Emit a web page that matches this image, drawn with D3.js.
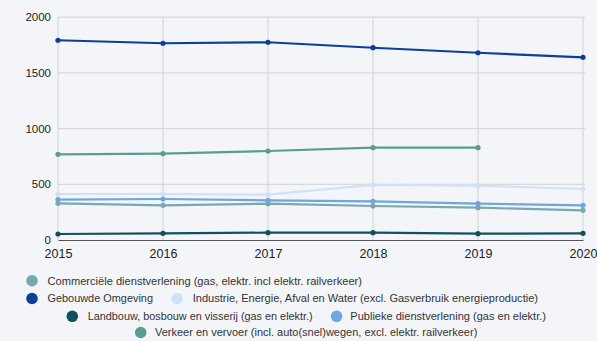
<!DOCTYPE html>
<html>
<head>
<meta charset="utf-8">
<script src="https://cdn.jsdelivr.net/npm/d3@7/dist/d3.min.js"></script>
<style>
  html, body { margin: 0; padding: 0; background: #f4f5f9; }
  svg { display: block; font-family: "Liberation Sans", Arial, sans-serif; }
</style>
</head>
<body>
<svg id="chart" width="597" height="341"></svg>
<script>
// Energy use per sector, 2015–2020
const years = [2015, 2016, 2017, 2018, 2019, 2020];
const yTicks = [0, 500, 1000, 1500, 2000];

const seriesNames = [
  "Commerciële dienstverlening (gas, elektr. incl elektr. railverkeer)",
  "Gebouwde Omgeving",
  "Industrie, Energie, Afval en Water (excl. Gasverbruik energieproductie)",
  "Landbouw, bosbouw en visserij (gas en elektr.)",
  "Publieke dienstverlening (gas en elektr.)",
  "Verkeer en vervoer (incl. auto(snel)wegen, excl. elektr. railverkeer)"
];
const seriesColors = ["#7aa8b0", "#0b3f98", "#d0e2f5", "#14505c", "#6ea6dd", "#5a9c94"];

const commercieel = [329, 311, 326, 305, 290, 266];
const gebouwd     = [1793, 1766, 1775, 1726, 1681, 1640];
const industrie   = [413, 413, 407, 494, 488, 458];
const landbouw    = [54, 60, 66, 66, 57, 60];
const publiek     = [362, 368, 356, 347, 326, 311];
const verkeer     = [769, 775, 799, 829, 829, null];

const seriesValues = [commercieel, gebouwd, industrie, landbouw, publiek, verkeer];

const svg = d3.select("#chart");
const plotLeft = 58, plotRight = 583, plotTop = 17.2, plotBottom = 240;
const fontStack = "'Liberation Sans', Arial, sans-serif";

const x = d3.scaleLinear().domain([2015, 2020]).range([plotLeft, plotRight]);
const y = d3.scaleLinear().domain([0, 2000]).range([plotBottom, plotTop]);

// horizontal gridlines
svg.append("g").selectAll("line").data(yTicks.filter(d => d > 0)).join("line")
  .attr("x1", plotLeft).attr("x2", plotRight + 2)
  .attr("y1", d => y(d)).attr("y2", d => y(d))
  .attr("stroke", "#d9d9dc").attr("stroke-width", 1.2);

// vertical gridlines
svg.append("g").selectAll("line").data(years).join("line")
  .attr("x1", d => x(d)).attr("x2", d => x(d))
  .attr("y1", plotTop).attr("y2", plotBottom)
  .attr("stroke", "#d2d2d5").attr("stroke-width", 1);

// y axis labels
const yAxis = d3.axisLeft(y).tickValues(yTicks).tickSize(0).tickPadding(7).tickFormat(d3.format("d"));
const gy = svg.append("g").attr("transform", `translate(${plotLeft},0)`).call(yAxis);
gy.select(".domain").remove();
gy.selectAll("text").attr("font-size", 11.5).attr("fill", "#222").attr("font-family", fontStack);

// x axis with baseline
const xAxis = d3.axisBottom(x).tickValues(years).tickSize(0).tickPadding(9).tickFormat(d3.format("d"));
const gx = svg.append("g").attr("transform", `translate(0,${plotBottom})`).call(xAxis);
gx.select(".domain").attr("stroke", "#555").attr("stroke-width", 1.2);
gx.selectAll("text").attr("font-size", 12.5).attr("fill", "#222").attr("font-family", fontStack);

// series lines and point markers
const line = d3.line()
  .defined(d => d.v != null)
  .x(d => x(d.year)).y(d => y(d.v));

const drawOrder = [2, 4, 0, 3, 5, 1];
drawOrder.forEach(i => {
  const pts = years.map((yr, k) => ({ year: yr, v: seriesValues[i][k] }));
  const g = svg.append("g");
  g.append("path").datum(pts)
    .attr("d", line)
    .attr("fill", "none")
    .attr("stroke", seriesColors[i])
    .attr("stroke-width", 2.2)
    .attr("stroke-linejoin", "round");
  g.selectAll("circle").data(pts.filter(d => d.v != null)).join("circle")
    .attr("cx", d => x(d.year)).attr("cy", d => y(d.v))
    .attr("r", 2.6).attr("fill", seriesColors[i]);
});

// legend rows: [series index, marker x, text start, text end] around a row centre y
const legendRows = [
  { cy: 280.7, items: [[0, 32, 47.5, 362]] },
  { cy: 298.5, items: [[1, 32, 47.5, 153], [2, 177, 192.7, 538]] },
  { cy: 316.3, items: [[3, 72.3, 87.7, 312.7], [4, 336.6, 350.3, 546]] },
  { cy: 332.5, items: [[5, 140.7, 155, 477.3]] }
];
const lg = svg.append("g");
legendRows.forEach(row => {
  row.items.forEach(([i, cx, tx, te]) => {
    lg.append("circle").attr("cx", cx).attr("cy", row.cy).attr("r", 5.8).attr("fill", seriesColors[i]);
    lg.append("text")
      .attr("x", tx).attr("y", row.cy).attr("dy", "0.36em")
      .attr("font-size", 11).attr("fill", "#333").attr("font-family", fontStack)
      .attr("textLength", te - tx).attr("lengthAdjust", "spacingAndGlyphs")
      .text(seriesNames[i]);
  });
});
</script>
</body>
</html>
